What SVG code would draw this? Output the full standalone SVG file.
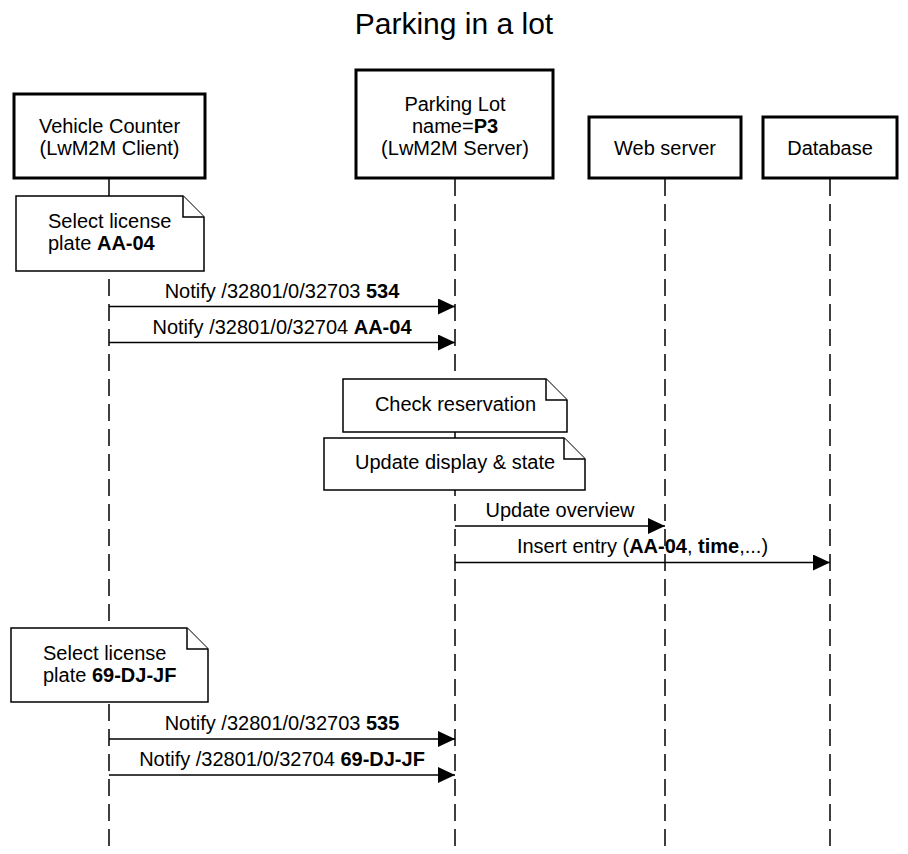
<svg xmlns="http://www.w3.org/2000/svg" width="908" height="854" viewBox="0 0 908 854">
<style>
text{font-family:"Liberation Sans",Arial,sans-serif;font-size:20px;fill:#000}
.c{text-anchor:middle}
.b{font-weight:bold}
.box{fill:#fff;stroke:#000;stroke-width:3}
.note{fill:#fff;stroke:#000;stroke-width:1.5}
.life{stroke:#000;stroke-width:1.5;stroke-dasharray:17 8;fill:none}
.msg{stroke:#000;stroke-width:1.5;fill:none;marker-end:url(#ah)}
</style>
<defs>
<marker id="ah" markerUnits="userSpaceOnUse" markerWidth="18" markerHeight="16" refX="17" refY="8" orient="auto">
<path d="M0,0 L17,8 L0,16 Z" fill="#000"/>
</marker>
</defs>
<rect width="908" height="854" fill="#fff"/>
<text class="c" x="454" y="34" style="font-size:30px">Parking in a lot</text>
<g id="lifelines">
<line class="life" x1="109" y1="179" x2="109" y2="854"/>
<line class="life" x1="455" y1="179" x2="455" y2="854"/>
<line class="life" x1="665" y1="179" x2="665" y2="854"/>
<line class="life" x1="830" y1="179" x2="830" y2="854"/>
</g>
<g id="vehicle-counter">
<rect class="box" x="14" y="94" width="191" height="84"/>
<text class="c" x="109.5" y="133">Vehicle Counter</text>
<text class="c" x="109.5" y="155">(LwM2M Client)</text>
</g>
<g id="parking-lot">
<rect class="box" x="356" y="70" width="197" height="108"/>
<text class="c" x="455" y="111">Parking Lot</text>
<text class="c" x="455" y="133">name=<tspan class="b">P3</tspan></text>
<text class="c" x="455" y="155">(LwM2M Server)</text>
</g>
<g id="web-server">
<rect class="box" x="589" y="117" width="152" height="61"/>
<text class="c" x="665" y="155">Web server</text>
</g>
<g id="database">
<rect class="box" x="763" y="117" width="134" height="61"/>
<text class="c" x="830" y="155">Database</text>
</g>
<g id="note-select-1">
<path class="note" d="M16,196 H183 L204,217 V271 H16 Z"/>
<path class="note" d="M183,196 V217 H204" fill="none"/>
<text x="48" y="228">Select license</text>
<text x="48" y="250">plate <tspan class="b">AA-04</tspan></text>
</g>
<g id="note-check">
<path class="note" d="M343,379 H546 L567,400 V432 H343 Z"/>
<path class="note" d="M546,379 V400 H567" fill="none"/>
<text class="c" x="455.5" y="411">Check reservation</text>
</g>
<g id="note-update">
<path class="note" d="M324,438 H564 L585,459 V490 H324 Z"/>
<path class="note" d="M564,438 V459 H585" fill="none"/>
<text class="c" x="455" y="469">Update display &amp; state</text>
</g>
<g id="note-select-2">
<path class="note" d="M11,628 H187 L208,649 V702 H11 Z"/>
<path class="note" d="M187,628 V649 H208" fill="none"/>
<text x="43" y="660">Select license</text>
<text x="43" y="682">plate <tspan class="b">69-DJ-JF</tspan></text>
</g>
<g id="messages">
<line class="msg" x1="109" y1="306.5" x2="455" y2="306.5"/>
<text class="c" x="282" y="298">Notify /32801/0/32703 <tspan class="b">534</tspan></text>
<line class="msg" x1="109" y1="342.5" x2="455" y2="342.5"/>
<text class="c" x="282" y="334">Notify /32801/0/32704 <tspan class="b">AA-04</tspan></text>
<line class="msg" x1="455" y1="526" x2="665" y2="526"/>
<text class="c" x="560" y="517">Update overview</text>
<line class="msg" x1="455" y1="562.5" x2="830" y2="562.5"/>
<text class="c" x="642.5" y="553">Insert entry (<tspan class="b">AA-04</tspan>, <tspan class="b">time</tspan>,...)</text>
<line class="msg" x1="109" y1="739" x2="455" y2="739"/>
<text class="c" x="282" y="730">Notify /32801/0/32703 <tspan class="b">535</tspan></text>
<line class="msg" x1="109" y1="775" x2="455" y2="775"/>
<text class="c" x="282" y="766">Notify /32801/0/32704 <tspan class="b">69-DJ-JF</tspan></text>
</g>
</svg>
